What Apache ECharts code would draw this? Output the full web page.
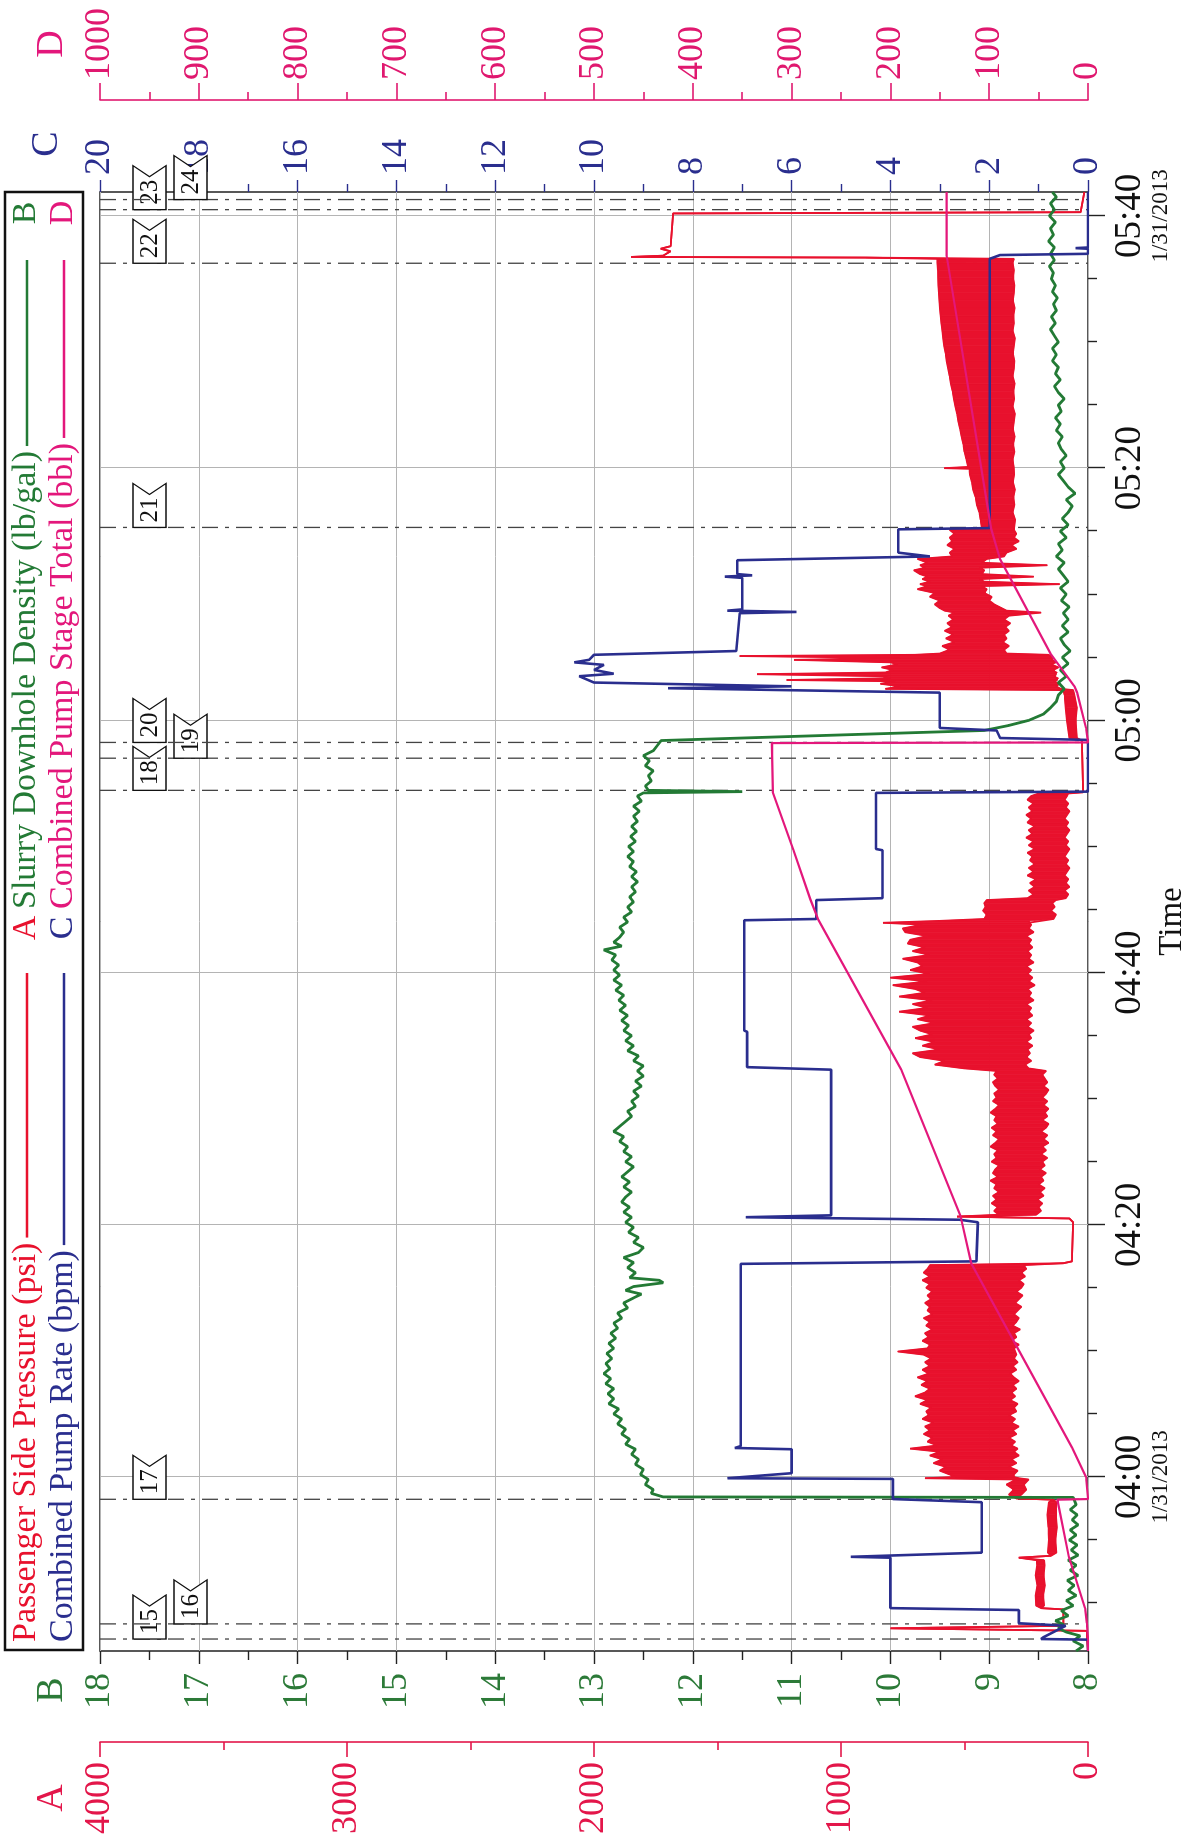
<!DOCTYPE html>
<html><head><meta charset="utf-8">
<script src="https://cdn.jsdelivr.net/npm/echarts@6.0.0/dist/echarts.min.js"></script>
<style>
html,body{margin:0;padding:0;background:#fff;overflow:hidden;width:1193px;height:1845px;}
#chart{position:absolute;left:0;top:0;width:1845px;height:1193px;transform-origin:0 0;transform:translateY(1845px) rotate(-90deg);}
</style></head><body><div id="chart"></div>
<script>
// ---------------- DATA (time = minutes after 04:00 on 1/31/2013) ----------------
const majorTimes = [0, 20, 40, 60, 80, 100];
const majorLabels = ['04:00', '04:20', '04:40', '05:00', '05:20', '05:40'];
const dateLabels = ['1/31/2013', '', '', '', '', '1/31/2013'];
const minorTimes = [-10, -5, 5, 10, 15, 25, 30, 35, 45, 50, 55, 65, 70, 75, 85, 90, 95];

const markerTime = [-12.85, -11.65, -1.77, 54.45, 57.0, 58.25, 75.3, 96.25, 100.5, 101.3];
const markerLabel = ['15', '16', '17', '18', '19', '20', '21', '22', '23', '24'];

// Passenger Side Pressure (psi): [time, low, high] of the trace within each sample
const pressureData = [
[-13.8,0,0],[-12.2,5,5],[-12.1,10,10],[-12.0,800,800],[-11.8,100,100],[-10.5,100,100],[-10.4,190,190],[-10.2,178,210],[-9.4,182,212],[-8.6,175,205],[-7.8,180,212],[-7.0,176,206],[-6.6,178,208],[-6.4,280,280],[-6.25,150,150],[-6.0,128,162],[-5.0,132,158],[-4.0,126,160],[-3.0,130,164],[-2.0,128,158],[-1.8,140,140],[-1.7,290,290],[-1.4,270,320],[-1.0,250,300],[-0.6,260,330],[-0.2,240,290],[-0.1,280,660],[0.0,300,540],
[0.2,300,560],[0.5,285,600],[0.8,320,575],[1.1,290,625],[1.4,310,590],[1.7,280,640],[2.0,300,600],[2.25,285,720],[2.5,310,610],[2.8,295,650],[3.1,320,630],[3.4,290,665],[3.7,305,640],[4.0,280,660],[4.3,310,625],[4.6,295,670],[4.9,320,645],[5.2,290,655],[5.5,300,635],[5.8,285,680],[6.1,315,650],[6.4,295,700],[6.7,310,660],[7.0,290,640],[7.3,305,675],[7.6,280,650],[7.9,300,690],[8.2,315,645],[8.5,290,670],[8.8,305,640],[9.1,285,660],[9.4,300,635],[9.7,290,665],[9.95,295,770],[10.2,300,650],[10.5,280,640],[10.8,310,670],[11.1,290,645],[11.4,300,660],[11.7,275,630],[12.0,305,655],[12.3,290,640],[12.6,280,665],[12.9,300,630],[13.2,285,650],[13.5,270,640],[13.8,295,660],[14.1,280,635],[14.4,265,650],[14.7,290,630],[15.0,270,655],[15.3,260,640],[15.6,280,670],[15.9,255,640],[16.2,270,665],[16.5,250,650],[16.8,260,640],[16.95,100,100],[17.1,65,65],[20.2,60,60],[20.5,75,75],[20.65,530,530],
[20.8,210,360],[21.1,190,380],[21.4,200,365],[21.7,185,390],[22.0,205,370],[22.3,180,385],[22.6,195,360],[22.9,175,380],[23.2,200,370],[23.5,180,395],[23.8,190,365],[24.1,170,385],[24.4,195,375],[24.7,175,360],[25.0,185,390],[25.3,165,370],[25.6,190,380],[25.9,170,365],[26.2,185,395],[26.5,160,375],[26.8,180,360],[27.1,165,385],[27.4,190,370],[27.7,170,390],[28.0,160,365],[28.3,185,380],[28.6,165,370],[28.9,175,395],[29.2,160,375],[29.5,180,360],[29.8,165,385],[30.1,185,370],[30.4,170,380],[30.7,160,360],[31.0,180,375],[31.3,165,385],[31.6,175,365],[31.9,185,380],[32.2,170,370],
[32.4,240,500],[32.7,255,620],[33.0,230,580],[33.3,250,680],[33.6,235,710],[33.9,245,600],[34.2,225,670],[34.5,250,620],[34.8,230,700],[35.1,240,630],[35.4,220,680],[35.7,245,710],[36.0,230,620],[36.3,250,690],[36.6,225,640],[36.9,240,765],[37.2,230,650],[37.5,250,710],[37.8,220,630],[38.1,240,765],[38.4,230,660],[38.7,245,700],[39.0,215,790],[39.3,240,650],[39.6,225,800],[39.9,245,640],[40.2,230,720],[40.5,250,670],[40.8,220,690],[41.1,240,750],[41.4,230,640],[41.7,245,710],[42.0,225,660],[42.3,240,730],[42.6,230,720],[42.9,250,650],[43.2,220,740],[43.5,240,750],[43.8,230,670],[43.95,240,830],[44.1,235,600],
[44.25,140,420],[44.6,130,410],[44.9,150,425],[45.2,135,415],[45.5,145,420],[45.75,130,410],
[45.9,90,245],[46.2,80,220],[46.5,95,240],[46.8,75,215],[47.1,90,235],[47.4,80,210],[47.7,95,245],[48.0,85,220],[48.3,75,240],[48.6,90,215],[48.9,80,235],[49.2,95,225],[49.5,85,245],[49.8,75,215],[50.1,90,240],[50.4,80,220],[50.7,95,250],[51.0,85,225],[51.3,75,240],[51.6,90,215],[51.9,80,245],[52.2,95,230],[52.5,85,250],[52.8,75,225],[53.1,90,240],[53.4,80,220],[53.7,95,245],[54.0,85,230],[54.2,80,200],[54.3,20,20],[58.4,25,25],[58.6,45,75],[60.0,50,85],[61.0,45,90],[62.0,55,95],[62.4,60,100],
[62.5,110,820],[62.7,130,760],[62.9,115,840],[63.1,140,780],[63.2,125,1220],[63.35,120,800],[63.5,135,830],[63.66,130,1340],[63.8,125,820],[64.0,140,790],[64.2,120,835],[64.45,150,770],[64.6,130,800],[64.8,145,1190],[64.95,140,760],[65.1,150,1410],[65.2,160,700],[65.3,330,600],[65.6,340,560],[65.9,320,590],[66.2,345,540],[66.5,330,575],[66.8,340,545],[67.1,320,580],[67.4,335,550],[67.7,315,570],[68.0,340,545],[68.3,320,565],[68.55,190,540],[68.7,330,580],[68.9,350,600],[69.2,380,620],[69.5,400,600],[69.8,390,640],[70.1,420,620],[70.4,410,690],[70.65,430,650],[70.8,115,680],[71.0,420,640],[71.2,440,670],[71.4,220,650],[71.6,430,680],[71.9,420,705],[72.1,440,660],[72.3,165,680],[72.5,430,650],[72.8,410,690],[73.0,340,550],[73.3,330,560],[73.6,290,540],[73.9,310,570],[74.2,280,550],[74.5,300,560],[74.8,290,540],[75.1,300,560],[75.25,300,430],
[75.9,295,435],[76.5,305,440],[77.1,298,450],[77.7,302,455],[78.3,296,465],[78.9,304,470],[79.5,299,478],[79.95,300,480],[80.0,300,582],[80.1,300,485],[80.7,305,492],[81.3,298,500],[81.9,303,505],[82.5,297,512],[83.1,304,518],[83.7,300,525],[84.3,296,530],[84.9,305,537],[85.5,299,543],[86.1,302,548],[86.7,297,555],[87.3,305,560],[87.9,300,566],[88.5,298,572],[89.1,304,576],[89.7,300,582],[90.3,296,586],[90.9,305,590],[91.5,300,594],[92.1,302,597],[92.7,297,600],[93.3,304,602],[93.9,300,604],[94.5,298,606],[95.1,303,607],[95.7,300,608],[96.3,305,610],[96.6,300,610],
[96.7,900,900],[96.75,1850,1850],[96.85,1720,1720],[97.2,1690,1690],[97.4,1730,1730],[97.6,1690,1690],[100.2,1680,1680],[100.3,30,30],[101.9,15,15]
];

// Slurry Downhole Density (lb/gal)
const densityData = [
[-13.8,8.12],[-13.4,8.05],[-13.0,8.15],[-12.6,8.08],[-12.3,8.22],[-12.0,8.3],[-11.7,8.25],[-11.4,8.33],[-11.0,8.2],[-10.6,8.27],[-10.2,8.15],[-9.8,8.22],[-9.4,8.12],[-9.0,8.2],[-8.6,8.14],[-8.2,8.21],[-7.8,8.1],[-7.4,8.18],[-7.0,8.12],[-6.6,8.2],[-6.2,8.1],[-5.8,8.17],[-5.4,8.11],[-5.0,8.19],[-4.6,8.12],[-4.2,8.18],[-3.8,8.1],[-3.4,8.16],[-3.0,8.11],[-2.6,8.18],[-2.2,8.12],[-1.62,8.15],[-1.58,12.3],
[-1.3,12.42],[-1.0,12.4],[-0.6,12.48],[-0.2,12.45],[0.2,12.53],[0.6,12.5],[1.0,12.58],[1.4,12.55],[1.8,12.62],[2.2,12.58],[2.6,12.68],[3.0,12.64],[3.4,12.72],[3.8,12.68],[4.2,12.76],[4.6,12.72],[5.0,12.8],[5.4,12.75],[5.8,12.85],[6.2,12.8],[6.6,12.86],[7.0,12.8],[7.4,12.88],[7.8,12.83],[8.2,12.9],[8.6,12.84],[9.0,12.88],[9.4,12.82],[9.8,12.87],[10.2,12.8],[10.6,12.85],[11.0,12.78],[11.4,12.83],[11.8,12.76],[12.2,12.8],[12.6,12.72],[13.0,12.76],[13.4,12.66],[13.8,12.7],[14.2,12.6],[14.5,12.52],[14.8,12.68],[15.1,12.6],[15.4,12.3],[15.6,12.34],[15.8,12.64],[16.2,12.58],[16.6,12.66],[17.0,12.6],[17.4,12.7],[17.8,12.55],[18.2,12.5],[18.6,12.6],[19.0,12.55],[19.4,12.65],[19.8,12.6],[20.2,12.68],[20.6,12.62],[21.0,12.7],[21.4,12.64],[21.8,12.72],[22.2,12.68],[22.6,12.62],[23.0,12.7],[23.4,12.64],[23.8,12.72],[24.2,12.66],[24.6,12.6],[25.0,12.68],[25.4,12.62],[25.8,12.7],[26.2,12.66],[26.6,12.74],[27.0,12.7],[27.4,12.8],[27.8,12.74],[28.2,12.68],[28.6,12.62],[29.0,12.66],[29.4,12.58],[29.8,12.62],[30.2,12.55],[30.6,12.6],[31.0,12.52],[31.4,12.58],[31.8,12.5],[32.2,12.56],[32.6,12.5],[33.0,12.6],[33.4,12.55],[33.8,12.66],[34.2,12.6],[34.6,12.68],[35.0,12.62],[35.4,12.7],[35.8,12.65],[36.2,12.72],[36.6,12.66],[37.0,12.74],[37.4,12.68],[37.8,12.75],[38.2,12.7],[38.6,12.78],[39.0,12.72],[39.4,12.8],[39.8,12.74],[40.2,12.8],[40.6,12.75],[41.0,12.82],[41.4,12.78],[41.8,12.9],[42.1,12.72],[42.4,12.8],[42.8,12.74],[43.2,12.7],[43.6,12.74],[44.0,12.66],[44.4,12.7],[44.8,12.62],[45.2,12.66],[45.6,12.6],[46.0,12.64],[46.4,12.58],[46.8,12.62],[47.2,12.56],[47.6,12.62],[48.0,12.57],[48.4,12.64],[48.8,12.6],[49.2,12.66],[49.6,12.6],[50.0,12.65],[50.4,12.58],[50.8,12.63],[51.2,12.57],[51.6,12.62],[52.0,12.56],[52.4,12.6],[52.8,12.54],[53.2,12.6],[53.6,12.52],[54.0,12.56],[54.25,12.5],[54.35,11.5],[54.45,12.45],[54.8,12.48],[55.2,12.42],[55.6,12.45],[56.0,12.4],[56.4,12.48],[56.8,12.44],[57.2,12.5],[57.6,12.4],[58.0,12.36],[58.4,12.32],[59.2,9.05],[59.6,8.8],[60.0,8.6],[60.5,8.45],[61.0,8.38],[61.5,8.32],[62.0,8.3],[62.5,8.24],[63.0,8.3],[63.5,8.22],[64.0,8.28],[64.5,8.2],[65.0,8.26],[65.5,8.18],[66.0,8.24],[66.5,8.28],[67.0,8.2],[67.5,8.26],[68.0,8.2],[68.5,8.25],[69.0,8.19],[69.5,8.27],[70.0,8.22],[70.5,8.28],[71.0,8.2],[71.5,8.25],[72.0,8.3],[72.5,8.24],[73.0,8.32],[73.5,8.26],[74.0,8.3],[74.5,8.22],[75.0,8.28],[75.5,8.2],[76.0,8.26],[76.5,8.2],[77.0,8.16],[77.5,8.22],[78.0,8.13],[78.5,8.2],[79.0,8.25],[79.5,8.3],[80.0,8.24],[80.5,8.28],[81.0,8.22],[81.5,8.27],[82.0,8.3],[82.5,8.26],[83.0,8.32],[83.5,8.28],[84.0,8.33],[84.5,8.27],[85.0,8.3],[85.5,8.24],[86.0,8.3],[86.5,8.34],[87.0,8.28],[87.5,8.33],[88.0,8.3],[88.5,8.36],[89.0,8.32],[89.5,8.36],[90.0,8.3],[90.5,8.34],[91.0,8.38],[91.5,8.33],[92.0,8.37],[92.5,8.32],[93.0,8.35],[93.5,8.31],[94.0,8.36],[94.5,8.33],[95.0,8.37],[95.5,8.35],[96.0,8.39],[96.5,8.34],[97.0,8.38],[97.5,8.34],[98.0,8.4],[98.5,8.35],[99.0,8.38],[99.5,8.33],[100.0,8.39],[100.5,8.34],[101.0,8.38],[101.5,8.32],[101.9,8.36]
];

// Combined Pump Rate (bpm)
const rateData = [
[-13.8,0],[-12.9,0],[-12.85,0.95],[-12.7,0.9],[-11.8,0.45],[-11.6,1.4],[-10.55,1.4],[-10.4,4.0],[-6.4,4.0],[-6.33,4.8],[-6.0,2.15],[-2.0,2.15],[-1.75,3.95],[-0.15,3.95],[-0.1,7.3],[0.3,6.0],[2.2,6.0],[2.3,7.15],[2.45,7.03],[16.9,7.03],[17.1,2.26],[20.2,2.23],[20.4,2.6],[20.6,6.93],[20.75,5.2],[32.3,5.2],[32.5,6.9],[35.3,6.9],[35.4,6.96],[44.15,6.96],[44.25,5.5],[45.75,5.5],[45.9,4.16],[49.7,4.16],[49.8,4.29],[54.25,4.29],[54.35,0],[58.45,0],[58.6,1.78],[59.2,1.85],[59.4,3.0],[62.2,3.0],[62.55,8.5],[62.7,6.0],[62.85,8.0],[63.0,10.0],[63.5,10.3],[63.7,9.6],[64.0,10.0],[64.4,9.8],[64.6,10.4],[64.8,10.1],[65.2,10.0],[65.5,7.12],[68.5,7.05],[68.6,5.9],[68.7,7.3],[68.8,7.0],[71.3,7.0],[71.4,7.35],[71.5,6.8],[71.6,7.1],[72.7,7.1],[73.0,3.2],[73.3,3.84],[75.15,3.84],[75.25,1.99],[96.6,1.99],[96.9,1.78],[97.0,0],[97.4,0],[97.45,0.25],[97.5,0],[101.9,0]
];

// Combined Pump Stage Total (bbl)
const volumeData = [
[-13.8,0],[-12.85,0],[-11.6,1.2],[-10.4,3],[-6.3,19.5],[-1.8,31],[-1.75,0],[0,2],[2.3,16],[16.9,118],[20.7,129],[32.3,189],[44.2,273],[45.8,281],[49.7,298],[54.3,319],[58.2,320],[58.25,0],[58.5,0.3],[59.4,2],[62.2,11],[62.7,13.7],[65.3,38],[72.8,89],[75.2,98],[96.8,143],[101.9,143]
];

// ---------------- STYLE ----------------
const FONT = '"Liberation Serif", "Times New Roman", serif';
const RED = '#e8112d', REDAX = '#e3164a';
const GREEN = '#237a35', GREENAX = '#2c7a38';
const BLUE = '#2a2e8e';
const MAG = '#e3177b', MAGAX = '#e0186f';
const upperLane = ['16', '19', '24'];

function textWidth(t, size) {
  const c = document.createElement('canvas').getContext('2d');
  c.font = size + 'px "Liberation Serif"';
  return c.measureText(t).width;
}

const LEG = 34;
function legendItem(x, y, label, color, lineEnd, letter, letterX) {
  const w = textWidth(label, LEG);
  return [
    {type: 'text', x: x, y: y, style: {text: label, fill: color, font: LEG + 'px ' + FONT, align: 'left', verticalAlign: 'middle'}},
    {type: 'line', shape: {x1: x + w + 5, y1: y + 1, x2: lineEnd, y2: y + 1}, style: {stroke: color, lineWidth: 2.5}},
    {type: 'text', x: letterX, y: y, style: {text: letter, fill: color, font: LEG + 'px ' + FONT, align: 'center', verticalAlign: 'middle'}}
  ];
}

const graphics = [
  {type: 'rect', shape: {x: 195, y: 5, width: 1458, height: 78}, style: {fill: 'rgba(0,0,0,0)', stroke: '#111', lineWidth: 2.5}},
  ...legendItem(203, 26, 'Passenger Side Pressure (psi)', RED, 872, 'A', 917),
  ...legendItem(936, 26, 'Slurry Downhole Density (lb/gal)', GREEN, 1585, 'B', 1632),
  ...legendItem(203, 63, 'Combined Pump Rate (bpm)', BLUE, 872, 'C', 917),
  ...legendItem(936, 63, 'Combined Pump Stage Total (bbl)', MAG, 1585, 'D', 1632),
  {type: 'text', x: 47, y: 52, style: {text: 'A', fill: REDAX, font: '38px ' + FONT, align: 'center', verticalAlign: 'middle'}},
  {type: 'text', x: 155, y: 52, style: {text: 'B', fill: GREENAX, font: '38px ' + FONT, align: 'center', verticalAlign: 'middle'}},
  {type: 'text', x: 1701, y: 47, style: {text: 'C', fill: BLUE, font: '38px ' + FONT, align: 'center', verticalAlign: 'middle'}},
  {type: 'text', x: 1801, y: 52, style: {text: 'D', fill: MAG, font: '38px ' + FONT, align: 'center', verticalAlign: 'middle'}}
];

function timeLabel(v) {
  const i = majorTimes.indexOf(Math.round(v));
  if (i < 0) return '';
  return dateLabels[i] ? '{t|' + majorLabels[i] + '}\n{d|' + dateLabels[i] + '}' : '{t|' + majorLabels[i] + '}';
}
const plain = v => String(v);

const chart = echarts.init(document.getElementById('chart'), null, {renderer: 'canvas'});
const option = {
  animation: false,
  backgroundColor: '#fff',
  textStyle: {fontFamily: FONT},
  grid: {left: 194, right: 192, top: 100, bottom: 105, containLabel: false, outerBoundsMode: 'none',
    show: true, borderColor: '#222', borderWidth: 1.5, backgroundColor: 'rgba(0,0,0,0)'},
  graphic: graphics,
  xAxis: [
    {
      type: 'value', min: -13.8, max: 101.9, position: 'bottom',
      axisLine: {show: false, onZero: false},
      axisTick: {show: true, customValues: majorTimes, length: 17, lineStyle: {color: '#222', width: 1.4}},
      axisLabel: {customValues: majorTimes, margin: 22, formatter: timeLabel, color: '#111',
        rich: {t: {fontSize: 37, fontFamily: FONT, color: '#111', lineHeight: 40}, d: {fontSize: 23, fontFamily: FONT, color: '#111', lineHeight: 22}}},
      splitLine: {show: true, lineStyle: {color: '#b4b4b4', width: 1}},
      name: 'Time', nameLocation: 'middle', nameGap: 68, nameMoveOverlap: false,
      nameTextStyle: {fontSize: 33, fontFamily: FONT, color: '#111', verticalAlign: 'top'}
    },
    {
      type: 'value', min: -13.8, max: 101.9, position: 'bottom',
      axisLine: {show: false, onZero: false},
      axisTick: {show: true, customValues: minorTimes, length: 9, lineStyle: {color: '#222', width: 1.4}},
      axisLabel: {show: false}, splitLine: {show: false}
    }
  ],
  yAxis: [
    { // B
      type: 'value', position: 'left', offset: 0, min: 8, max: 18, interval: 1,
      axisLine: {show: false, onZero: false},
      axisTick: {show: true, length: 13, lineStyle: {color: '#222', width: 1.4}},
      minorTick: {show: true, splitNumber: 2, length: 9, lineStyle: {color: '#222', width: 1.4}},
      axisLabel: {color: GREENAX, fontSize: 36, fontFamily: FONT, margin: 22, formatter: plain, showMinLabel: true, showMaxLabel: true},
      splitLine: {show: true, lineStyle: {color: '#b4b4b4', width: 1}}
    },
    { // A
      type: 'value', position: 'left', offset: 91, min: 0, max: 4000, interval: 1000,
      axisLine: {show: true, onZero: false, lineStyle: {color: REDAX, width: 1.6}},
      axisTick: {show: true, length: 15, lineStyle: {color: REDAX, width: 1.6}},
      minorTick: {show: true, splitNumber: 2, length: 8, lineStyle: {color: REDAX, width: 1.6}},
      axisLabel: {color: REDAX, fontSize: 36, fontFamily: FONT, margin: 20, formatter: plain, showMinLabel: true, showMaxLabel: true},
      splitLine: {show: false}
    },
    { // C
      type: 'value', position: 'right', offset: 0, min: 0, max: 20, interval: 2,
      axisLine: {show: false, onZero: false},
      axisTick: {show: true, length: 12, lineStyle: {color: BLUE, width: 1.4}},
      minorTick: {show: true, splitNumber: 2, length: 8, lineStyle: {color: BLUE, width: 1.4}},
      axisLabel: {color: BLUE, fontSize: 36, fontFamily: FONT, margin: 17, formatter: plain, showMinLabel: true, showMaxLabel: true},
      splitLine: {show: false}
    },
    { // D
      type: 'value', position: 'right', offset: 92, min: 0, max: 1000, interval: 100,
      axisLine: {show: true, onZero: false, lineStyle: {color: MAGAX, width: 1.6}},
      axisTick: {show: true, length: 17, lineStyle: {color: MAGAX, width: 1.6}},
      minorTick: {show: true, splitNumber: 2, length: 8, lineStyle: {color: MAGAX, width: 1.6}},
      axisLabel: {color: MAGAX, fontSize: 36, fontFamily: FONT, margin: 20, formatter: plain, showMinLabel: true, showMaxLabel: true},
      splitLine: {show: false}
    }
  ],
  series: [
    {
      type: 'custom', name: 'markers', xAxisIndex: 0, yAxisIndex: 0, clip: false, silent: true, z: 1,
      data: markerTime.map((t, i) => [t, 8]),
      renderItem: function (params, api) {
        const t = api.value(0);
        const x = api.coord([t, 8])[0];
        const cs = params.coordSys;
        const lab = markerLabel[params.dataIndex];
        const y0 = cs.y + (upperLane.indexOf(lab) >= 0 ? 74 : 33);
        const w = 44, h = 33, notch = 11;
        return {type: 'group', children: [
          {type: 'line', shape: {x1: x, y1: cs.y, x2: x, y2: cs.y + cs.height}, style: {stroke: '#444', lineWidth: 1.3, lineDash: [16, 7, 4, 7]}},
          {type: 'polygon', shape: {points: [[x, y0], [x + w, y0], [x + w - notch, y0 + h / 2], [x + w, y0 + h], [x, y0 + h]]}, style: {fill: '#fff', stroke: '#111', lineWidth: 1.3}},
          {type: 'text', x: x + (w - notch) / 2 + 1, y: y0 + h / 2 + 1, style: {text: lab, fill: '#111', font: '25px ' + FONT, align: 'center', verticalAlign: 'middle'}}
        ]};
      }
    },
    { // filled band between the low and high pressure traces
      type: 'custom', name: 'pressureBand', xAxisIndex: 0, yAxisIndex: 1, silent: true, z: 2,
      data: pressureData.map(d => [d[0], d[1], d[2]]),
      renderItem: function (params, api) {
        const i = params.dataIndex;
        if (i >= pressureData.length - 1) return null;
        const a = pressureData[i], b = pressureData[i + 1];
        if (a[1] === a[2] && b[1] === b[2]) return null;
        const pts = [api.coord([a[0], a[1]]), api.coord([b[0], b[1]]), api.coord([b[0], b[2]]), api.coord([a[0], a[2]])];
        return {type: 'polygon', shape: {points: pts}, style: {fill: RED, stroke: RED, lineWidth: 0.8}};
      }
    },
    {
      type: 'line', name: 'pressureLow', xAxisIndex: 0, yAxisIndex: 1, symbol: 'none', z: 2,
      data: pressureData.map(d => [d[0], d[1]]),
      lineStyle: {color: RED, width: 1.8}
    },
    {
      type: 'line', name: 'pressureHigh', xAxisIndex: 0, yAxisIndex: 1, symbol: 'none', z: 2,
      data: pressureData.map(d => [d[0], d[2]]),
      lineStyle: {color: RED, width: 1.8}
    },
    {
      type: 'line', name: 'density', xAxisIndex: 0, yAxisIndex: 0, symbol: 'none', z: 3,
      data: densityData, lineStyle: {color: GREEN, width: 2.8}
    },
    {
      type: 'line', name: 'rate', xAxisIndex: 0, yAxisIndex: 2, symbol: 'none', z: 4,
      data: rateData, lineStyle: {color: BLUE, width: 2.6}
    },
    {
      type: 'line', name: 'volume', xAxisIndex: 0, yAxisIndex: 3, symbol: 'none', z: 5,
      data: volumeData, lineStyle: {color: MAG, width: 2.2}
    }
  ]
};
chart.setOption(option);
</script></body></html>
